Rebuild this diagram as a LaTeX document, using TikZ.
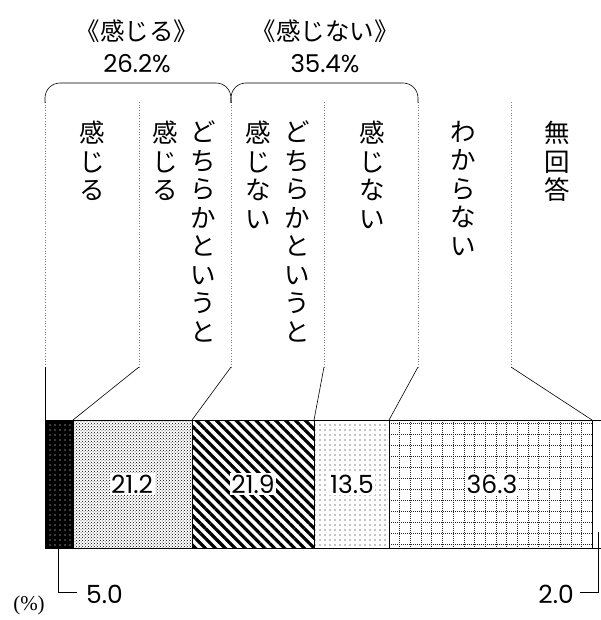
\documentclass[tikz,border=0pt]{standalone}
\usepackage{fontspec}
\setmainfont{Poppins}
\newfontfamily\jp{Noto Sans CJK JP}
\newfontfamily\paren{Liberation Serif}
\usetikzlibrary{patterns,patterns.meta}
\begin{document}
\begin{tikzpicture}[x=1pt,y=-1pt,line cap=butt,line join=miter]
\tikzset{
col/.style={draw=gray,dotted,line width=0.7pt},
tate/.style={anchor=north,inner sep=0pt,align=center,font=\jp\fontsize{25.5}{28.5}\selectfont},
val/.style={fill=white,inner sep=1.5pt,font=\fontsize{25}{26}\selectfont},
grp/.style={align=center,inner sep=0pt,font=\fontsize{24.5}{32}\selectfont},
link/.style={line width=0.6pt}
}
\useasboundingbox (0,0) rectangle (601,620);
% bar segments
\fill[black] (45,420) rectangle (73,548);
\fill[pattern={Dots[distance=5pt,radius=0.6pt]},pattern color=white] (45,420) rectangle (73,548);
\fill[pattern=crosshatch dots] (73,420) rectangle (192,548);
\fill[pattern={Lines[angle=-45,distance=7pt,line width=3.2pt]}] (192,420) rectangle (314,548);
\fill[pattern={Dots[distance=5pt,radius=0.6pt]}] (314,420) rectangle (389,548);
\begin{scope}
\clip (389,420) rectangle (592,548);
\foreach \i in {0,...,19}
  \draw[black!85,line width=0.7pt,dash pattern=on 1pt off 1pt] (389+10.7*\i,420) -- (389+10.7*\i,548);
\foreach \j in {0,...,11}
  \draw[black!85,line width=0.7pt,dash pattern=on 1pt off 1pt] (389,423+11*\j) -- (592,423+11*\j);
\end{scope}
\draw[line width=0.7pt] (45,420) rectangle (592,548);
\draw[line width=0.7pt] (592,420) -- (601,420) (592,548) -- (601,548);
\foreach \x in {73,192,314,389}
  \draw[line width=0.6pt] (\x,420) -- (\x,548);
% values
\node[val] (v2) at (132,484) {21.2};
\node[val] (v3) at (253,484) {21.9};
\node[val] (v4) at (352,484) {13.5};
\node[val] (v5) at (492,484) {36.3};
% column guides
\foreach \x [count=\k] in {45,139,231,324,418,511} {
  \draw[col] (\x,102) -- (\x,367);
  \coordinate (c\k) at (\x,367);
}
\foreach \x [count=\k] in {45,73,192,314,389,592}
  \coordinate (b\k) at (\x,420);
\foreach \k in {1,...,6}
  \draw[link] (c\k) -- (b\k);
% groups
\draw[link,rounded corners=15pt] (45,103) -- (45,83) -- (231,83) -- (231,103);
\draw[link,rounded corners=15pt] (231,103) -- (231,83) -- (418,83) -- (418,103);
\node[grp] (g1) at (137,46) {{\jp《感じる》}\\26.2\%};
\node[grp] (g2) at (325,46) {{\jp《感じない》}\\35.4\%};
% labels
\node[tate] (t1) at (92,121) {感\\じ\\る};
\node[tate] (t2a) at (203,121) {ど\\ち\\ら\\か\\と\\い\\う\\と};
\node[tate] (t2b) at (165,121) {感\\じ\\る};
\node[tate] (t3a) at (297,121) {ど\\ち\\ら\\か\\と\\い\\う\\と};
\node[tate] (t3b) at (258,121) {感\\じ\\な\\い};
\node[tate] (t4) at (372,121) {感\\じ\\な\\い};
\node[tate] (t5) at (463,121) {わ\\か\\ら\\な\\い};
\node[tate] (t6) at (557,121) {無\\回\\答};
% small shares
\coordinate (s1) at (58,548);
\coordinate (s1e) at (77,592);
\node[anchor=west,inner sep=0pt,font=\fontsize{25}{26}\selectfont] (p1) at (86,594) {5.0};
\draw[link] (s1) |- (s1e);
\coordinate (s6) at (598,532);
\coordinate (s6e) at (580,592);
\node[anchor=east,inner sep=0pt,font=\fontsize{25}{26}\selectfont] (p6) at (574,594) {2.0};
\draw[link] (s6) |- (s6e);
\node[font=\paren\fontsize{21}{24}\selectfont] (unit) at (29,605) {(\%)};
\end{tikzpicture}
\end{document}
